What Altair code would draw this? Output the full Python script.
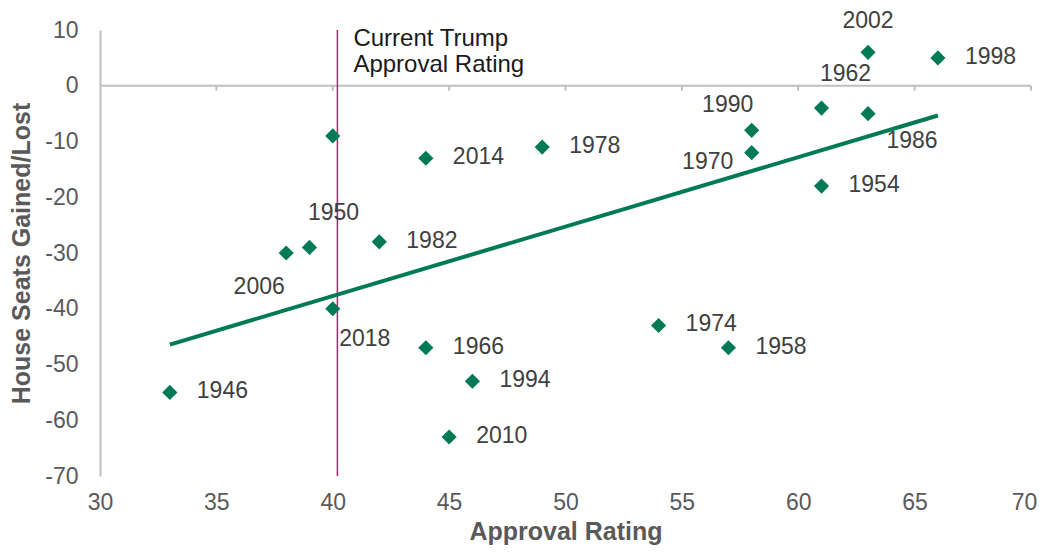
import altair as alt
import pandas as pd

# ---- data ----
labels = ["1946", "2006", "1950", "", "2018", "1982", "2014", "1966", "2010", "1994",
          "1978", "1974", "1958", "1990", "1970", "1954", "1962", "1986", "2002", "1998"]
approval = [33, 38, 39, 40, 40, 42, 44, 44, 45, 46,
            49, 54, 57, 58, 58, 61, 61, 63, 63, 66]
seats = [-55, -30, -29, -9, -40, -28, -13, -47, -63, -53,
         -11, -43, -47, -8, -12, -18, -4, -5, 6, 5]
# label placement code for each point (R=right, BL=below-left, AR=above-right,
# BR=below-right, BRW=below-right wide, AL=above-left, L=left, A=above, N=none)
placement = ["R", "BL", "AR", "N", "BR", "R", "R", "R", "R", "R",
             "R", "R", "R", "AL", "L", "R", "AR", "BRW", "A", "R"]

x_ticks = [30, 35, 40, 45, 50, 55, 60, 65, 70]
y_ticks = [-70, -60, -50, -40, -30, -20, -10, 0, 10]
current_approval = 40.2
annotation_lines = ["Current Trump", "Approval Rating"]
x_title = "Approval Rating"
y_title = "House Seats Gained/Lost"

# ---- styles ----
GREEN = "#007A55"
AXIS_GRAY = "#BFBFBF"
TEXT_GRAY = "#595959"
LABEL_GRAY = "#404040"
MAGENTA = "#C8186E"
FONT = "Liberation Sans"

offsets = {
    "R": (27, -1, "left"),
    "BL": (-27, 34, "center"),
    "AR": (24, -34, "center"),
    "BR": (32, 30, "center"),
    "BRW": (44, 27, "center"),
    "AL": (-24, -25, "center"),
    "L": (-44, 9, "center"),
    "A": (0, -31, "center"),
}

df = pd.DataFrame({"label": labels, "approval": approval, "seats": seats,
                   "placement": placement})
one_row = pd.DataFrame({"k": [0]})

xscale = alt.Scale(domain=[x_ticks[0], x_ticks[-1]], nice=False, zero=False)
yscale = alt.Scale(domain=[y_ticks[0], y_ticks[-1]], nice=False, zero=False)

base = alt.Chart(df)

last_x_label_offset = {"condition": {"test": f"datum.value == {x_ticks[-1]}",
                                     "value": -7}, "value": 0}

points = base.mark_point(shape="diamond", filled=True, size=230, color=GREEN,
                         opacity=1).encode(
    x=alt.X("approval:Q", scale=xscale, title=x_title,
            axis=alt.Axis(values=x_ticks, domain=False, ticks=False, grid=False,
                          labelFontSize=23, labelColor=TEXT_GRAY, labelFont=FONT,
                          labelPadding=15, titleFontSize=25, titleFont=FONT,
                          titleFontWeight="bold", titleColor=TEXT_GRAY,
                          titlePadding=5, labelFlush=False,
                          labelOffset=last_x_label_offset,
                          labelExpr="'' + datum.value")),
    y=alt.Y("seats:Q", scale=yscale, title=y_title,
            axis=alt.Axis(values=y_ticks, domain=True, domainColor=AXIS_GRAY,
                          domainWidth=2, ticks=False, grid=False,
                          labelFontSize=23, labelColor=TEXT_GRAY, labelFont=FONT,
                          labelPadding=22, titleFontSize=25, titleFont=FONT,
                          titleFontWeight="bold", titleColor=TEXT_GRAY,
                          titlePadding=10, labelFlush=False,
                          labelExpr="'' + datum.value")),
)

trend = base.transform_regression("approval", "seats").mark_line(
    color=GREEN, strokeWidth=4).encode(x="approval:Q", y="seats:Q")

zero_line = alt.Chart(one_row).mark_rule(color=AXIS_GRAY, strokeWidth=2).encode(
    x=alt.datum(x_ticks[0]), x2=alt.datum(x_ticks[-1]), y=alt.datum(0))
zero_ticks = alt.Chart(pd.DataFrame({"t": x_ticks[1:]})).mark_rule(
    color=AXIS_GRAY, strokeWidth=2, y2Offset=5).encode(
    x="t:Q", y=alt.datum(0), y2=alt.datum(0))

vline = alt.Chart(one_row).mark_rule(color=MAGENTA, strokeWidth=1.5).encode(
    x=alt.datum(current_approval))

annotation = alt.Chart(one_row).mark_text(
    align="left", baseline="alphabetic", dx=16, dy=16, fontSize=24,
    lineHeight=26, font=FONT, color="#1A1A1A").encode(
    x=alt.datum(current_approval), y=alt.datum(y_ticks[-1]),
    text=alt.value(annotation_lines))

label_layers = []
for code, (dx, dy, align) in offsets.items():
    label_layers.append(
        base.transform_filter(alt.datum.placement == code).mark_text(
            align=align, baseline="middle", dx=dx, dy=dy, fontSize=23,
            font=FONT, color=LABEL_GRAY).encode(
            x="approval:Q", y="seats:Q", text="label:N"))

chart = alt.layer(zero_line, zero_ticks, vline, trend, points, annotation,
                  *label_layers).properties(
    width=931, height=446,
    autosize=alt.AutoSizeParams(type="none"),
    padding={"left": 92, "top": 22, "right": 7, "bottom": 70},
).configure_view(stroke=None)

chart.save("out.html", embed_options={"renderer": "svg", "actions": False})
